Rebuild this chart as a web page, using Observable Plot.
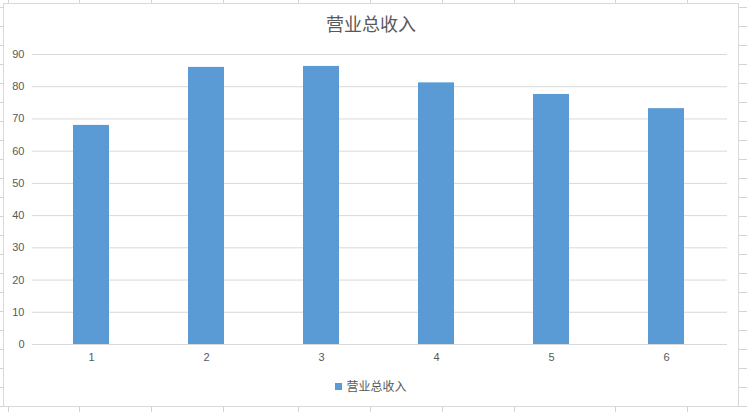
<!DOCTYPE html>
<html>
<head>
<meta charset="utf-8">
<script src="https://cdn.jsdelivr.net/npm/d3@7"></script>
<script src="https://cdn.jsdelivr.net/npm/@observablehq/plot@0.6"></script>
<style>
  html, body { margin: 0; padding: 0; background: #fff; }
  body { width: 747px; height: 412px; overflow: hidden; position: relative; }
  #sheet { position: absolute; left: 0; top: 0; }
  #chart { position: absolute; left: 3px; top: 3px; width: 736px; height: 404px;
           box-sizing: border-box; border: 1px solid #d9d9d9; background: #fff; }
  #title { position: absolute; left: 0; top: 7px; width: 100%; text-align: center;
           font-family: "Noto Sans CJK SC", sans-serif; font-size: 18px; line-height: 24px; color: #595959; }
  #plot { position: absolute; left: 0; top: 29px; }
  #legend { position: absolute; left: 0; top: 373px; width: 100%; text-align: center;
            font-family: "Noto Sans CJK SC", sans-serif; font-size: 12px; line-height: 18px; color: #595959; }
  #legend .sw { display: inline-block; width: 7px; height: 7px; margin-right: 4px; vertical-align: 1px; }
</style>
</head>
<body>
<svg id="sheet" width="747" height="412"></svg>
<div id="chart">
  <div id="title"></div>
  <div id="plot"></div>
  <div id="legend"></div>
</div>
<script>
const chartTitle = "营业总收入";
const seriesName = "营业总收入";
const categories = ["1", "2", "3", "4", "5", "6"];
const revenue = [68.0, 86.0, 86.3, 81.2, 77.6, 73.2];
const yTicks = [0, 10, 20, 30, 40, 50, 60, 70, 80, 90];

const barColor = "#5B9BD5";
const data = categories.map((c, i) => ({cat: c, value: revenue[i]}));

// spreadsheet grid behind the chart object
const sheet = d3.select("#sheet");
const colEdges = [8, 79, 151, 223, 298.5, 370.5, 442, 514, 615, 687];
colEdges.forEach(x => sheet.append("line").attr("x1", x).attr("x2", x).attr("y1", 0).attr("y2", 412)
  .attr("stroke", "#d4d4d4").attr("stroke-width", 1).attr("shape-rendering", "crispEdges"));
d3.range(7.5, 412, 19).forEach(y => sheet.append("line").attr("x1", 0).attr("x2", 747).attr("y1", y).attr("y2", y)
  .attr("stroke", "#d4d4d4").attr("stroke-width", 1).attr("shape-rendering", "crispEdges"));

document.getElementById("title").textContent = chartTitle;

const W = 734, ML = 28, MR = 11;
const plot = Plot.plot({
  width: W,
  height: 340,
  marginTop: 21,
  marginBottom: 29,
  marginLeft: ML,
  marginRight: MR,
  style: {fontFamily: "'Liberation Sans', sans-serif", fontSize: "11px", color: "#595959", background: "transparent"},
  x: {type: "band", domain: categories, paddingInner: 0.69, paddingOuter: 0.345, range: [ML, W - MR - 3], label: null},
  y: {domain: [0, 90], label: null},
  marks: [
    Plot.gridY(yTicks, {stroke: "#d9d9d9", strokeOpacity: 1}),
    Plot.barY(data, {x: "cat", y: "value", fill: barColor}),
    Plot.axisY(yTicks, {tickSize: 0, tickPadding: 8, label: null, fill: "#595959"}),
    Plot.axisX({tickSize: 0, tickPadding: 9, label: null, fill: "#595959"})
  ]
});
document.getElementById("plot").appendChild(plot);

const legend = d3.select("#legend");
legend.append("span").attr("class", "sw").style("background", barColor);
legend.append("span").text(seriesName);
</script>
</body>
</html>
